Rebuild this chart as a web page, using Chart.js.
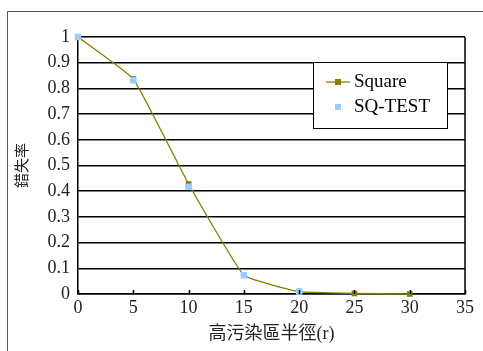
<!DOCTYPE html>
<html lang="zh-Hant">
  <head>
    <meta charset="UTF-8" />
    <title>錯失率</title>
    <script src="https://cdn.jsdelivr.net/npm/chart.js"></script>
    <style>
      html, body { margin: 0; padding: 0; background: #fff; }
      #wrap { width: 483px; height: 351px; }
    </style>
  </head>
  <body>
    <div id="wrap"><canvas id="chart" width="483" height="351"></canvas></div>
    <script>
      const radius = [0, 5, 10, 15, 20, 25, 30];
      const squareRate = [1, 0.837, 0.428, 0.073, 0.009, 0.002, 0];
      const sqTestRate = [1, 0.832, 0.417, 0.073, 0.01, null, null];
      const xTicks = [0, 5, 10, 15, 20, 25, 30, 35];
      const yTicks = [0, 0.1, 0.2, 0.3, 0.4, 0.5, 0.6, 0.7, 0.8, 0.9, 1];

      const serif = "'Liberation Serif', 'Noto Sans CJK TC', serif";

      // outer frame, right border, inner tick marks and the boxed legend
      const decor = {
        id: "decor",
        afterDraw(chart) {
          const ctx = chart.ctx;
          const area = chart.chartArea;
          const x = chart.scales.x;
          ctx.save();
          ctx.strokeStyle = "#555";
          ctx.lineWidth = 1;
          ctx.beginPath();
          ctx.moveTo(7.5, 351);
          ctx.lineTo(7.5, 11.5);
          ctx.lineTo(483, 11.5);
          ctx.stroke();

          ctx.strokeStyle = "#000";
          ctx.lineWidth = 1.5;
          ctx.beginPath();
          ctx.moveTo(area.right, area.top);
          ctx.lineTo(area.right, area.bottom);
          xTicks.forEach((v) => {
            const px = Math.round(x.getPixelForValue(v)) + 0.5;
            ctx.moveTo(px, area.bottom);
            ctx.lineTo(px, area.bottom - 4);
          });
          ctx.stroke();

          // legend
          ctx.fillStyle = "#fff";
          ctx.fillRect(313, 62, 134, 66);
          ctx.strokeStyle = "#000";
          ctx.lineWidth = 1;
          ctx.strokeRect(313.5, 62.5, 134, 66);
          const ds = chart.data.datasets;
          ctx.font = "19px " + serif;
          ctx.textBaseline = "middle";
          ctx.textAlign = "left";
          ctx.strokeStyle = ds[0].borderColor;
          ctx.lineWidth = 1.3;
          ctx.beginPath();
          ctx.moveTo(326, 82);
          ctx.lineTo(350, 82);
          ctx.stroke();
          ctx.fillStyle = ds[0].pointBackgroundColor;
          ctx.fillRect(335, 79, 6, 6);
          ctx.fillStyle = ds[1].pointBackgroundColor;
          ctx.fillRect(335, 104, 6, 6);
          ctx.fillStyle = "#000";
          ctx.fillText(ds[0].label, 354, 82);
          ctx.fillText(ds[1].label, 354, 107);
          ctx.restore();
        },
      };

      new Chart(document.getElementById("chart"), {
        type: "line",
        data: {
          labels: radius,
          datasets: [
            {
              label: "Square",
              order: 1,
              clip: false,
              data: radius.map((r, i) => ({ x: r, y: squareRate[i] })),
              borderColor: "#808000",
              borderWidth: 1.3,
              pointStyle: "rect",
              pointRadius: 4,
              pointBackgroundColor: "#808000",
              pointBorderColor: "#808000",
              pointBorderWidth: 0,
              tension: 0.1,
            },
            {
              label: "SQ-TEST",
              order: 0,
              clip: false,
              data: radius.map((r, i) => ({ x: r, y: sqTestRate[i] })),
              showLine: false,
              pointStyle: "rect",
              pointRadius: 4.6,
              pointBackgroundColor: "#99CCFF",
              pointBorderColor: "#99CCFF",
              pointBorderWidth: 0,
            },
          ],
        },
        options: {
          responsive: false,
          animation: false,
          layout: { padding: { left: 7, top: 37, right: 18, bottom: 0 } },
          plugins: { legend: { display: false }, tooltip: { enabled: false } },
          scales: {
            x: {
              type: "linear",
              min: 0,
              max: 35,
              afterBuildTicks: (s) => { s.ticks = xTicks.map((v) => ({ value: v })); },
              afterFit: (s) => { s.height = 57; },
              grid: { display: false, drawTicks: false },
              border: { color: "#000", width: 1.5 },
              ticks: { color: "#222", font: { family: serif, size: 18 }, padding: 3, maxRotation: 0 },
              title: {
                display: true,
                text: "高污染區半徑(r)",
                color: "#222",
                font: { family: serif, size: 18 },
                padding: { top: 2, bottom: 6 },
              },
            },
            y: {
              min: 0,
              max: 1,
              afterBuildTicks: (s) => { s.ticks = yTicks.map((v) => ({ value: v })); },
              afterFit: (s) => { s.width = 71; },
              grid: { color: "#000", lineWidth: 1.5, drawTicks: false },
              border: { color: "#000", width: 1.5 },
              ticks: {
                color: "#222",
                font: { family: serif, size: 18 },
                padding: 8,
                callback: (v) => String(Math.round(v * 10) / 10),
              },
              title: {
                display: true,
                text: "錯失率",
                color: "#222",
                font: { family: serif, size: 15 },
                padding: { top: 7, bottom: 0 },
              },
            },
          },
        },
        plugins: [decor],
      });
    </script>
  </body>
</html>
